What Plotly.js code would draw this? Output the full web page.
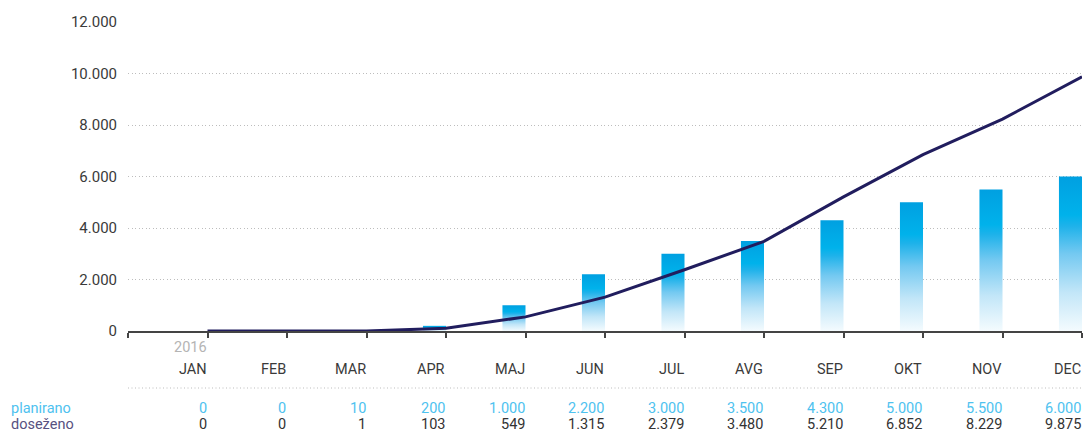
<!DOCTYPE html>
<html>
<head>
<meta charset="utf-8">
<script src="https://cdn.plot.ly/plotly-3.0.1.min.js"></script>
<style>html,body{margin:0;padding:0;background:#fff;}#chart{width:1083px;height:432px;}</style>
</head>
<body>
<div id="chart"></div>
<script>
const months = ['JAN','FEB','MAR','APR','MAJ','JUN','JUL','AVG','SEP','OKT','NOV','DEC'];
const yearLabel = '2016';
const planirano = [0,0,10,200,1000,2200,3000,3500,4300,5000,5500,6000];
const dosezeno = [0,0,1,103,549,1315,2379,3480,5210,6852,8229,9875];
const rowLabels = ['planirano','doseženo'];

const W = 1083, H = 432;
const M = {l:128, r:1, t:22, b:101};
const plotH = H - M.t - M.b;
const plotW = W - M.l - M.r;
const py = p => (H - M.b - p) / plotH;   // pixel y -> paper
const pxX = p => (p - M.l) / plotW;      // pixel x -> paper

function fmt(n){ return String(n).replace(/\B(?=(\d{3})+(?!\d))/g,'.'); }

const font = 'Roboto, "Open Sans", sans-serif';
const fs = 14.5;
const barW = 0.29;
const xs = months.map((m,i)=>i+1);

const traces = [];
planirano.forEach((v,i)=>{
  if(v<=0) return;
  const x = xs[i];
  traces.push({
    type:'scatter', mode:'lines',
    x:[x-barW, x-barW, x, x, x-barW],
    y:[0, v, v, 0, 0],
    fill:'toself',
    fillgradient:{type:'vertical', colorscale:[[0,'#f4fbfe'],[0.25,'#c2e6f8'],[0.5,'#74c9f1'],[0.68,'#1eb2ea'],[0.75,'#00b2eb'],[1,'#00a0e1']]},
    line:{width:0, color:'rgba(0,0,0,0)'},
    hoverinfo:'skip', showlegend:false
  });
});
traces.push({
  type:'scatter', mode:'lines', x:xs, y:dosezeno,
  line:{color:'#211d5e', width:3},
  hoverinfo:'skip', showlegend:false
});

const ann = [];
const base = {showarrow:false, borderpad:0};
ann.push(Object.assign({xref:'x', yref:'paper', x:1, y:py(347), text:yearLabel, xanchor:'right', yanchor:'middle', font:{family:font, size:fs, color:'#b4b4b4'}}, base));
months.forEach((m,i)=>{
  ann.push(Object.assign({xref:'x', yref:'paper', x:xs[i], y:py(369), text:m, xanchor:'right', yanchor:'middle', font:{family:font, size:fs, color:'#3a3a3a'}}, base));
  ann.push(Object.assign({xref:'x', yref:'paper', x:xs[i], y:py(408), text:fmt(planirano[i]), xanchor:'right', yanchor:'middle', font:{family:font, size:fs, color:'#4ec2ef'}}, base));
  ann.push(Object.assign({xref:'x', yref:'paper', x:xs[i], y:py(434), text:fmt(dosezeno[i]), xanchor:'right', yanchor:'bottom', font:{family:font, size:fs, color:'#333333'}}, base));
});
ann.push(Object.assign({xref:'paper', yref:'paper', x:pxX(10), y:py(408), text:rowLabels[0], xanchor:'left', yanchor:'middle', font:{family:font, size:fs, color:'#4ec2ef'}}, base));
ann.push(Object.assign({xref:'paper', yref:'paper', x:pxX(10), y:py(434), text:rowLabels[1], xanchor:'left', yanchor:'bottom', font:{family:font, size:fs, color:'#57517f'}}, base));

const layout = {
  width:W, height:H,
  margin:M,
  paper_bgcolor:'#fff', plot_bgcolor:'#fff',
  separators:',.',
  font:{family:font, size:14, color:'#3a3a3a'},
  showlegend:false,
  xaxis:{
    range:[0,12], tickvals:[0,1,2,3,4,5,6,7,8,9,10,11,12], showticklabels:false,
    ticks:'outside', ticklen:5, tickwidth:2, tickcolor:'#444',
    showline:true, linecolor:'#444', linewidth:2, showgrid:false, zeroline:false, fixedrange:true
  },
  yaxis:{
    range:[0,12000], tickvals:[0,2000,4000,6000,8000,10000,12000], tickformat:',d',
    ticks:'outside', ticklen:7, tickcolor:'rgba(0,0,0,0)',
    showgrid:true, gridcolor:'#bdbdbd', griddash:'1px,2.5px', gridwidth:1,
    zeroline:false, showline:false, tickfont:{family:font, size:15, color:'#3a3a3a'}, fixedrange:true
  },
  shapes:[{type:'line', xref:'paper', yref:'paper', x0:0, x1:1, y0:py(388), y1:py(388), line:{color:'#bdbdbd', width:1, dash:'1px,2.5px'}}],
  annotations:ann
};
Plotly.newPlot('chart', traces, layout, {staticPlot:true, displayModeBar:false});
</script>
</body>
</html>
